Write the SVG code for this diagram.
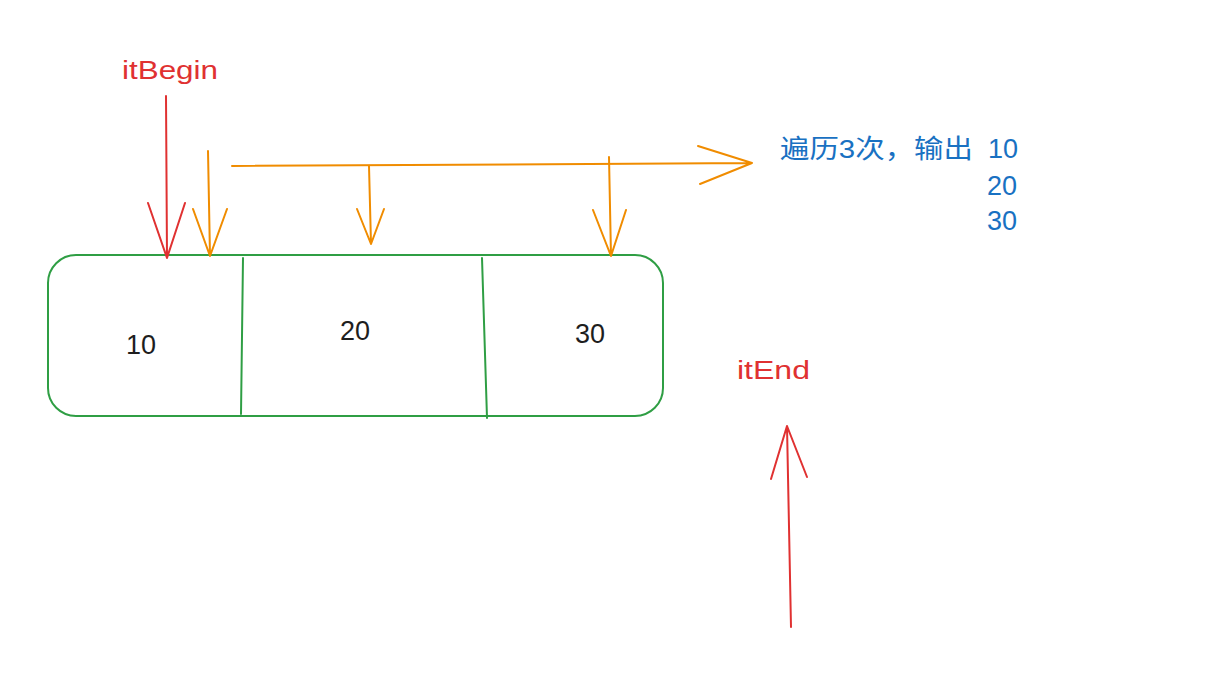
<svg xmlns="http://www.w3.org/2000/svg" width="1210" height="682" viewBox="0 0 1210 682">
<style>
.txt{font-family:"Liberation Sans","Noto Sans CJK SC",sans-serif;font-size:27px}
.lbl{font-family:"Liberation Sans","Noto Sans CJK SC",sans-serif;font-size:26px}
.red{fill:#e03131}
.blue{fill:#1971c2}
.blk{fill:#1e1e1e}
.ln{fill:none;stroke-width:2;stroke-linecap:round;stroke-linejoin:round}
.r{stroke:#e03131}
.o{stroke:#f08c00}
.g{stroke:#2f9e44}
</style>
<rect width="1210" height="682" fill="#ffffff"/>
<g id="array">
<rect x="48" y="255" width="615" height="161" rx="28" class="ln g"/>
<path d="M243 258 L241 414 M482 258 L487 418" class="ln g"/>
<text x="141" y="354" text-anchor="middle" class="txt blk">10</text>
<text x="355" y="340" text-anchor="middle" class="txt blk">20</text>
<text x="590" y="343" text-anchor="middle" class="txt blk">30</text>
</g>
<g id="itBegin">
<text x="122" y="79" textLength="96" lengthAdjust="spacingAndGlyphs" class="lbl red">itBegin</text>
</g>
<g id="itEnd">
<text x="737" y="379" textLength="73" lengthAdjust="spacingAndGlyphs" class="lbl red">itEnd</text>
</g>
<g id="output">
<text x="780" y="158" textLength="193" lengthAdjust="spacingAndGlyphs" class="lbl blue">遍历3次，输出</text>
<text x="988" y="158" class="txt blue">10</text>
<text x="987" y="195" class="txt blue">20</text>
<text x="987" y="230" class="txt blue">30</text>
</g>
<g id="connectors">
<path d="M166 96 L167 258 M148 203 L167 258 L185 203" class="ln r"/>
<path d="M208 151 L210 256 M193 209 L210 256 L227 209" class="ln o"/>
<path d="M232 166 L752 163 M698 146 L752 163 L700 184" class="ln o"/>
<path d="M369 166 L371 244 M357 209 L371 244 L384 209" class="ln o"/>
<path d="M609 157 L611 256 M593 210 L611 256 L626 210" class="ln o"/>
<path d="M791 627 L787 426 M771 479 L787 426 L807 477" class="ln r"/>
</g>
</svg>
